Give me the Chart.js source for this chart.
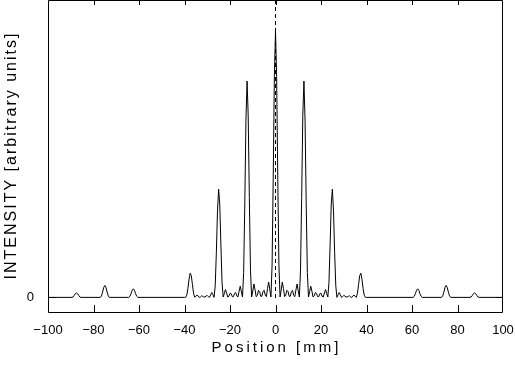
<!DOCTYPE html>
<html>
<head>
<meta charset="utf-8">
<script src="https://cdn.jsdelivr.net/npm/chart.js@4.4.1/dist/chart.umd.min.js"></script>
<style>
  html, body { margin: 0; padding: 0; background: #fff; }
</style>
</head>
<body>
<canvas id="profileChart" width="515" height="374"></canvas>
<script>
// Intensity profile: position in mm, intensity in arbitrary units
var position = [
    -100, -89.5, -89, -88.5, -88, -87.5, -87, -86.5, -86, -85.5,
    -77, -76.5, -76, -75.5, -75, -74.5, -74, -73.5, -73,
    -64.5, -64, -63.5, -63, -62.5, -62, -61.5, -61, -60.5,
    -40, -39.5, -39, -38.5, -38, -37.5, -37, -36.5, -36, -35.5,
    -35, -34.5, -34, -33.5, -33, -32.5, -32, -31.5, -31, -30.5,
    -30, -29.5, -29, -28.5, -28, -27.5, -27, -26.5, -26, -25.5,
    -25, -24.5, -24, -23.5, -23, -22.5, -22, -21.5, -21, -20.5,
    -20, -19.5, -19, -18.5, -18, -17.5, -17, -16.5, -16, -15.5,
    -15, -14.5, -14, -13.5, -13, -12.5, -12, -11.5, -11, -10.5,
    -10, -9.5, -9, -8.5, -8, -7.5, -7, -6.5, -6, -5.5,
    -5, -4.5, -4, -3.5, -3, -2.5, -2, -1.5, -1, -0.5,
    0, 0.5, 1, 1.5, 2, 2.5, 3, 3.5, 4, 4.5,
    5, 5.5, 6, 6.5, 7, 7.5, 8, 8.5, 9, 9.5,
    10, 10.5, 11, 11.5, 12, 12.5, 13, 13.5, 14, 14.5,
    15, 15.5, 16, 16.5, 17, 17.5, 18, 18.5, 19, 19.5,
    20, 20.5, 21, 21.5, 22, 22.5, 23, 23.5, 24, 24.5,
    25, 25.5, 26, 26.5, 27, 27.5, 28, 28.5, 29, 29.5,
    30, 30.5, 31, 31.5, 32, 32.5, 33, 33.5, 34, 34.5,
    35, 35.5, 36, 36.5, 37, 37.5, 38, 38.5, 39, 39.5,
    40,
    60.5, 61, 61.5, 62, 62.5, 63, 63.5, 64, 64.5,
    73, 73.5, 74, 74.5, 75, 75.5, 76, 76.5, 77,
    85.5, 86, 86.5, 87, 87.5, 88, 88.5, 89, 89.5, 100
];

var intensity = [
    0, 0, 0.01, 0.05, 0.10, 0.12, 0.10, 0.05, 0.01, 0,
    0, 0.04, 0.14, 0.27, 0.32, 0.27, 0.14, 0.04, 0,
    0, 0.03, 0.10, 0.19, 0.23, 0.19, 0.10, 0.03, 0,
    0.00, 0.00, 0.06, 0.24, 0.49, 0.65, 0.58, 0.34, 0.10, 0.00,
    0.03, 0.06, 0.04, 0.00, 0.01, 0.04, 0.03, 0.01, 0.01, 0.04,
    0.05, 0.02, 0.00, 0.07, 0.13, 0.07, 0.00, 0.31, 1.20, 2.32,
    2.91, 2.51, 1.41, 0.40, 0.01, 0.10, 0.21, 0.12, 0.01, 0.03,
    0.11, 0.10, 0.02, 0.02, 0.11, 0.13, 0.04, 0.01, 0.17, 0.30,
    0.15, 0.01, 0.67, 2.51, 4.74, 5.82, 4.90, 2.69, 0.74, 0.01,
    0.17, 0.36, 0.21, 0.02, 0.05, 0.19, 0.16, 0.03, 0.03, 0.16,
    0.19, 0.06, 0.02, 0.24, 0.41, 0.20, 0.01, 0.87, 3.21, 5.95,
    7.18, 5.95, 3.21, 0.87, 0.01, 0.20, 0.41, 0.24, 0.02, 0.06,
    0.19, 0.16, 0.03, 0.03, 0.16, 0.19, 0.05, 0.02, 0.21, 0.36,
    0.17, 0.01, 0.74, 2.69, 4.90, 5.82, 4.74, 2.51, 0.67, 0.01,
    0.15, 0.30, 0.17, 0.01, 0.04, 0.13, 0.11, 0.02, 0.02, 0.10,
    0.11, 0.03, 0.01, 0.12, 0.21, 0.10, 0.01, 0.40, 1.41, 2.51,
    2.91, 2.32, 1.20, 0.31, 0.00, 0.07, 0.13, 0.07, 0.00, 0.02,
    0.05, 0.04, 0.01, 0.01, 0.03, 0.04, 0.01, 0.00, 0.04, 0.06,
    0.03, 0.00, 0.10, 0.34, 0.58, 0.65, 0.49, 0.24, 0.06, 0.00,
    0.00,
    0, 0.03, 0.10, 0.19, 0.23, 0.19, 0.10, 0.03, 0,
    0, 0.04, 0.14, 0.27, 0.32, 0.27, 0.14, 0.04, 0,
    0, 0.01, 0.05, 0.10, 0.12, 0.10, 0.05, 0.01, 0, 0
];

// Dashed centre marker
var markerX = [0, 0];
var markerY = [8, -0.1];

// Labelled ticks
var xLabels = [-100, -80, -60, -40, -20, 0, 20, 40, 60, 80, 100];
var yLabels = [0];

var xTitle = 'Position [mm]';
var yTitle = 'INTENSITY [arbitrary units]';

Chart.defaults.font.family = '"Liberation Sans", Arial, sans-serif';
Chart.defaults.color = '#000';

// Frame with inward ticks, and the axis titles
var frameAndTitles = {
    id: 'frameAndTitles',
    afterDatasetsDraw: function(chart) {
        var ctx = chart.ctx, a = chart.chartArea;
        var x = chart.scales.x, y = chart.scales.y;
        ctx.save();
        ctx.strokeStyle = '#000';
        ctx.lineWidth = 1;
        ctx.beginPath();
        ctx.rect(a.left + 0.5, a.top + 0.5, a.right - a.left - 1, a.bottom - a.top - 1);
        x.ticks.forEach(function(t) {
            if (t.value <= x.min || t.value >= x.max) return;
            var px = Math.round(x.getPixelForValue(t.value)) + 0.5;
            var len = t.value % 20 === 0 ? 8 : 4;
            ctx.moveTo(px, a.bottom);
            ctx.lineTo(px, a.bottom - len);
            ctx.moveTo(px, a.top);
            ctx.lineTo(px, a.top + 5);
        });
        y.ticks.forEach(function(t) {
            if (t.value < 0 || t.value >= y.max) return;
            var py = Math.round(y.getPixelForValue(t.value)) + 0.5;
            ctx.moveTo(a.left, py);
            ctx.lineTo(a.left + 8, py);
            ctx.moveTo(a.right, py);
            ctx.lineTo(a.right - 7, py);
        });
        ctx.stroke();
        ctx.restore();
    },
    afterDraw: function(chart) {
        var ctx = chart.ctx, a = chart.chartArea;
        ctx.save();
        ctx.fillStyle = '#000';
        ctx.textAlign = 'center';
        ctx.textBaseline = 'alphabetic';

        ctx.font = '15px "Liberation Sans", Arial, sans-serif';
        ctx.letterSpacing = '3px';
        ctx.fillText(xTitle, (a.left + a.right) / 2 + 1, 352);

        ctx.font = '16px "Liberation Sans", Arial, sans-serif';
        ctx.letterSpacing = '2px';
        ctx.translate(16, (a.top + a.bottom) / 2);
        ctx.rotate(-Math.PI / 2);
        ctx.fillText(yTitle, 1, 0);
        ctx.restore();
    }
};

var profileChart = new Chart(document.getElementById('profileChart'), {
    type: 'line',
    data: {
        datasets: [{
            label: 'Intensity',
            data: position.map(function(p, i) { return {x: p, y: intensity[i]}; }),
            borderColor: '#000',
            borderWidth: 1,
            pointRadius: 0,
            tension: 0,
            fill: false
        }, {
            label: 'Centre',
            data: markerX.map(function(p, i) { return {x: p, y: markerY[i]}; }),
            borderColor: '#000',
            borderWidth: 1,
            borderDash: [4, 3],
            pointRadius: 0,
            fill: false
        }]
    },
    options: {
        responsive: false,
        animation: false,
        layout: { padding: { top: 0, right: 12, bottom: 0, left: 0 } },
        plugins: {
            legend: { display: false },
            tooltip: { enabled: false }
        },
        scales: {
            x: {
                type: 'linear',
                min: -100,
                max: 100,
                grid: { display: false, drawTicks: false },
                border: { display: false },
                ticks: {
                    stepSize: 10,
                    autoSkip: false,
                    maxRotation: 0,
                    padding: 10,
                    font: { size: 13 },
                    callback: function(v) {
                        return xLabels.indexOf(v) >= 0 ? String(v).replace('-', '\u2212') : null;
                    }
                },
                afterFit: function(scale) {
                    scale.height = 61;
                    scale.paddingLeft = 0;
                    scale.paddingRight = 0;
                }
            },
            y: {
                min: -0.42,
                max: 8,
                grid: { display: false, drawTicks: false },
                border: { display: false },
                ticks: {
                    stepSize: 1,
                    includeBounds: false,
                    padding: 14,
                    font: { size: 13 },
                    callback: function(v) {
                        return yLabels.indexOf(v) >= 0 ? String(v) : null;
                    }
                },
                afterFit: function(scale) {
                    scale.width = 48;
                    scale.paddingTop = 0;
                    scale.paddingBottom = 0;
                }
            }
        }
    },
    plugins: [frameAndTitles]
});
</script>
</body>
</html>
